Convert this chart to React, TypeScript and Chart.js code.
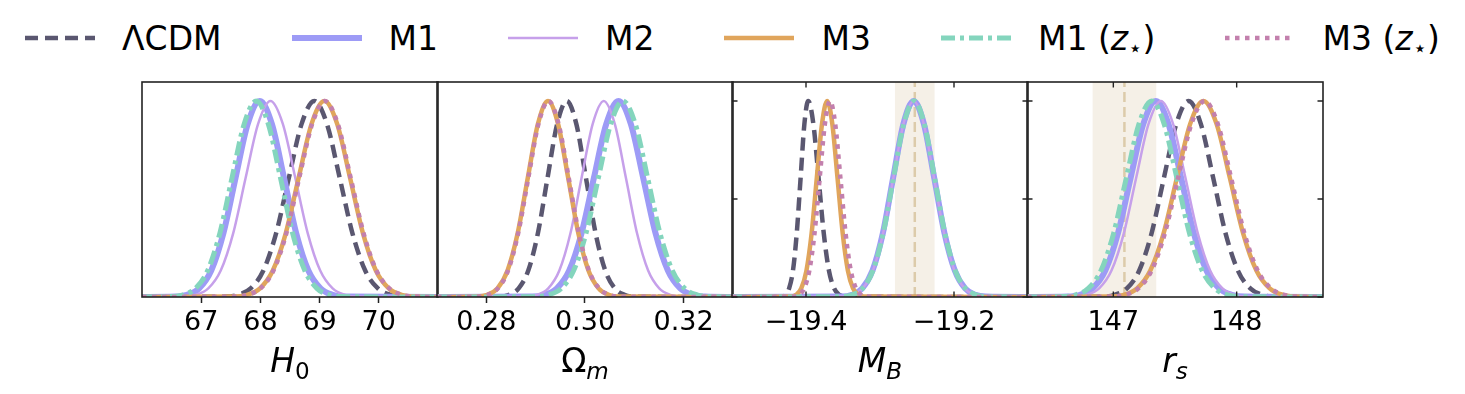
import React, { useEffect, useRef } from "react";
import { Chart, registerables } from "chart.js";

Chart.register(...registerables);

// ---------- series (legend order) ----------
const seriesNames = ["ΛCDM", "M1", "M2", "M3", "M1 (z⋆)", "M3 (z⋆)"];
const seriesColors = ["#5a5770", "#9d9bf6", "#c6a0ea", "#e0a55c", "#84d5bd", "#c380ad"];
const seriesWidths = [4.5, 6, 2.5, 4.5, 5, 4.5];
const seriesDashes: number[][] = [[13, 7], [], [], [], [14, 5, 4, 5], [4.5, 5.5]];

// Normalised posterior heights at which each curve's x positions were read
const densityLevels = [0, 0.002, 0.011, 0.044, 0.135, 0.325, 0.607, 0.882, 1, 0.882, 0.607, 0.325, 0.135, 0.044, 0.011, 0.002, 0];

// ---------- H0 panel ----------
const h0Range = [66, 71];
const h0Ticks = [67, 68, 69, 70];
const h0TickLabels = ["67", "68", "69", "70"];
const h0_LCDM_x = [66, 67.405, 67.62, 67.835, 68.05, 68.265, 68.48, 68.695, 68.91, 69.125, 69.34, 69.555, 69.77, 69.985, 70.2, 70.415, 71];
const h0_M1_x = [66, 66.555, 66.76, 66.965, 67.17, 67.375, 67.58, 67.785, 67.99, 68.195, 68.4, 68.605, 68.81, 69.015, 69.22, 69.425, 71];
const h0_M2_x = [66, 66.7, 66.91, 67.12, 67.33, 67.54, 67.75, 67.96, 68.17, 68.38, 68.59, 68.8, 69.01, 69.22, 69.43, 69.64, 71];
const h0_M3_x = [66, 67.558, 67.775, 67.993, 68.21, 68.428, 68.645, 68.863, 69.08, 69.298, 69.515, 69.733, 69.95, 70.168, 70.385, 70.603, 71];
const h0_M1z_x = [66, 66.495, 66.7, 66.905, 67.11, 67.315, 67.52, 67.725, 67.93, 68.135, 68.34, 68.545, 68.75, 68.955, 69.16, 69.365, 71];
const h0_M3z_x = [66, 67.568, 67.785, 68.003, 68.22, 68.438, 68.655, 68.873, 69.09, 69.308, 69.525, 69.743, 69.96, 70.178, 70.395, 70.613, 71];

// ---------- Omega_m panel ----------
const omRange = [0.27, 0.33];
const omTicks = [0.28, 0.3, 0.32];
const omTickLabels = ["0.28", "0.30", "0.32"];
const om_LCDM_x = [0.27, 0.28265, 0.2846, 0.28655, 0.2885, 0.29045, 0.2924, 0.29435, 0.2963, 0.29825, 0.3002, 0.30215, 0.3041, 0.30605, 0.308, 0.30995, 0.33];
const om_M1_x = [0.27, 0.2893, 0.2918, 0.2943, 0.2968, 0.2993, 0.3018, 0.3043, 0.3068, 0.3093, 0.3118, 0.3143, 0.3168, 0.3193, 0.3218, 0.3243, 0.33];
const om_M2_x = [0.27, 0.28805, 0.2903, 0.29255, 0.2948, 0.29705, 0.2993, 0.30155, 0.3038, 0.30605, 0.3083, 0.31055, 0.3128, 0.31505, 0.3173, 0.31955, 0.33];
const om_M3_x = [0.27, 0.27815, 0.2802, 0.28225, 0.2843, 0.28635, 0.2884, 0.29045, 0.2925, 0.29455, 0.2966, 0.29865, 0.3007, 0.30275, 0.3048, 0.30685, 0.33];
const om_M1z_x = [0.27, 0.2902, 0.2927, 0.2952, 0.2977, 0.3002, 0.3027, 0.3052, 0.3077, 0.3102, 0.3127, 0.3152, 0.3177, 0.3202, 0.3227, 0.3252, 0.33];
const om_M3z_x = [0.27, 0.27825, 0.2803, 0.28235, 0.2844, 0.28645, 0.2885, 0.29055, 0.2926, 0.29465, 0.2967, 0.29875, 0.3008, 0.30285, 0.3049, 0.30695, 0.33];

// ---------- M_B panel ----------
const mbRange = [-19.5, -19.1];
const mbTicks = [-19.4, -19.2];
const mbTickLabels = ["−19.4", "−19.2"];
const mbPrior = [-19.253, 0.027]; // SH0ES mean, sigma
const mb_LCDM_x = [-19.5, -19.433, -19.4279, -19.4228, -19.4176, -19.4125, -19.4073, -19.4022, -19.397, -19.39, -19.383, -19.376, -19.369, -19.362, -19.355, -19.348, -19.1];
const mb_M1_x = [-19.5, -19.3518, -19.3379, -19.324, -19.3101, -19.2962, -19.2823, -19.2684, -19.2545, -19.2406, -19.2267, -19.2128, -19.1989, -19.185, -19.1711, -19.1572, -19.1];
const mb_M2_x = [-19.5, -19.3508, -19.337, -19.3233, -19.3095, -19.2958, -19.282, -19.2683, -19.2545, -19.2408, -19.227, -19.2133, -19.1995, -19.1858, -19.172, -19.1583, -19.1];
const mb_M3_x = [-19.5, -19.4204, -19.4134, -19.4064, -19.3994, -19.3924, -19.3854, -19.3784, -19.3714, -19.3644, -19.3574, -19.3504, -19.3434, -19.3364, -19.3294, -19.3224, -19.1];
const mb_M1z_x = [-19.5, -19.3513, -19.3374, -19.3235, -19.3096, -19.2957, -19.2818, -19.2679, -19.254, -19.2401, -19.2262, -19.2123, -19.1984, -19.1845, -19.1706, -19.1567, -19.1];
const mb_M3z_x = [-19.5, -19.4165, -19.4095, -19.4025, -19.3955, -19.3885, -19.3815, -19.3745, -19.3675, -19.3605, -19.3535, -19.3465, -19.3395, -19.3325, -19.3255, -19.3185, -19.1];

// ---------- r_s panel ----------
const rsRange = [146.3, 148.7];
const rsTicks = [147, 148];
const rsTickLabels = ["147", "148"];
const rsPrior = [147.09, 0.26]; // Planck mean, sigma
const rs_LCDM_x = [146.3, 146.91, 147.01, 147.11, 147.21, 147.31, 147.41, 147.51, 147.61, 147.71, 147.81, 147.91, 148.01, 148.11, 148.21, 148.31, 148.7];
const rs_M1_x = [146.3, 146.6275, 146.73, 146.8325, 146.935, 147.0375, 147.14, 147.2425, 147.345, 147.4475, 147.55, 147.6525, 147.755, 147.8575, 147.96, 148.0625, 148.7];
const rs_M2_x = [146.3, 146.685, 146.785, 146.885, 146.985, 147.085, 147.185, 147.285, 147.385, 147.485, 147.585, 147.685, 147.785, 147.885, 147.985, 148.085, 148.7];
const rs_M3_x = [146.3, 146.9775, 147.085, 147.1925, 147.3, 147.4075, 147.515, 147.6225, 147.73, 147.8375, 147.945, 148.0525, 148.16, 148.2675, 148.375, 148.4825, 148.7];
const rs_M1z_x = [146.3, 146.5925, 146.695, 146.7975, 146.9, 147.0025, 147.105, 147.2075, 147.31, 147.4125, 147.515, 147.6175, 147.72, 147.8225, 147.925, 148.0275, 148.7];
const rs_M3z_x = [146.3, 146.9875, 147.095, 147.2025, 147.31, 147.4175, 147.525, 147.6325, 147.74, 147.8475, 147.955, 148.0625, 148.17, 148.2775, 148.385, 148.4925, 148.7];

const yTicks = [0, 0.5, 1];
const Y_MAX = 1.097;

// ---------- layout ----------
const PANEL_LEFTS = [142, 437, 732, 1027];
const PANEL_W = 296;
const PANEL_TOP = 82;
const PANEL_H = 215;
const PADX = 40;
const PADT = 10;
const AXIS_H = 45;
const FONT = "'DejaVu Sans', sans-serif";

const panels = [
  { range: h0Range, ticks: h0Ticks, labels: h0TickLabels, curves: [h0_LCDM_x, h0_M1_x, h0_M2_x, h0_M3_x, h0_M1z_x, h0_M3z_x], inner: false, prior: null as number[] | null },
  { range: omRange, ticks: omTicks, labels: omTickLabels, curves: [om_LCDM_x, om_M1_x, om_M2_x, om_M3_x, om_M1z_x, om_M3z_x], inner: false, prior: null as number[] | null },
  { range: mbRange, ticks: mbTicks, labels: mbTickLabels, curves: [mb_LCDM_x, mb_M1_x, mb_M2_x, mb_M3_x, mb_M1z_x, mb_M3z_x], inner: true, prior: mbPrior },
  { range: rsRange, ticks: rsTicks, labels: rsTickLabels, curves: [rs_LCDM_x, rs_M1_x, rs_M2_x, rs_M3_x, rs_M1z_x, rs_M3z_x], inner: true, prior: rsPrior },
];

const framePlugin = {
  id: "frame",
  afterDraw(chart: any, _args: any, opts: any) {
    const { ctx, chartArea: a, scales } = chart;
    ctx.save();
    ctx.strokeStyle = "#222";
    ctx.lineWidth = 1.6;
    ctx.strokeRect(a.left, a.top, a.right - a.left, a.bottom - a.top);
    if (opts && opts.inner) {
      const L = 5.5;
      ctx.lineWidth = 1.4;
      ctx.beginPath();
      for (const t of scales.x.ticks) {
        const px = scales.x.getPixelForValue(t.value);
        ctx.moveTo(px, a.top);
        ctx.lineTo(px, a.top + L);
        ctx.moveTo(px, a.bottom);
        ctx.lineTo(px, a.bottom - L);
      }
      for (const v of yTicks) {
        const py = scales.y.getPixelForValue(v);
        ctx.moveTo(a.left, py);
        ctx.lineTo(a.left + L, py);
        ctx.moveTo(a.right, py);
        ctx.lineTo(a.right - L, py);
      }
      ctx.stroke();
    }
    ctx.restore();
  },
};

function Panel({ idx }: { idx: number }) {
  const ref = useRef<HTMLCanvasElement>(null);
  useEffect(() => {
    const p = panels[idx];
    const datasets: any[] = p.curves.map((xs, s) => ({
      label: seriesNames[s],
      data: xs.map((x, i) => ({ x, y: densityLevels[i] })),
      borderColor: seriesColors[s],
      borderWidth: seriesWidths[s],
      borderDash: seriesDashes[s],
      pointRadius: 0,
      fill: false,
      cubicInterpolationMode: "monotone",
      clip: 0,
      order: 10 - s,
    }));
    if (p.prior) {
      const [c, sd] = p.prior;
      datasets.push({
        label: "prior band",
        data: [
          { x: c - sd, y: Y_MAX },
          { x: c + sd, y: Y_MAX },
        ],
        backgroundColor: "rgba(236,228,212,0.55)",
        borderWidth: 0,
        pointRadius: 0,
        fill: "origin",
        order: 100,
      });
      datasets.push({
        label: "prior mean",
        data: [
          { x: c, y: 0 },
          { x: c, y: Y_MAX },
        ],
        borderColor: "#dccbaa",
        borderWidth: 2.5,
        borderDash: [10, 5],
        pointRadius: 0,
        fill: false,
        order: 99,
      });
    }
    const chart = new Chart(ref.current as HTMLCanvasElement, {
      type: "line",
      data: { datasets },
      options: {
        responsive: false,
        maintainAspectRatio: false,
        animation: false,
        events: [],
        layout: { padding: { left: PADX, right: PADX, top: PADT, bottom: 0 }, autoPadding: false },
        plugins: {
          legend: { display: false },
          tooltip: { enabled: false },
          frame: { inner: p.inner },
        } as any,
        scales: {
          x: {
            type: "linear",
            min: p.range[0],
            max: p.range[1],
            afterBuildTicks: (s: any) => {
              s.ticks = p.ticks.map((v) => ({ value: v }));
            },
            afterFit: (s: any) => {
              s.height = AXIS_H;
            },
            ticks: {
              autoSkip: false,
              maxRotation: 0,
              minRotation: 0,
              padding: 4,
              color: "#000",
              font: { family: FONT, size: 27 },
              callback: (_v: any, i: number) => p.labels[i],
            },
            grid: {
              display: true,
              drawOnChartArea: false,
              drawTicks: true,
              tickLength: 6,
              tickWidth: 1.5,
              tickColor: p.inner ? "rgba(0,0,0,0)" : "#222",
              color: "rgba(0,0,0,0)",
            },
            border: { display: false },
          },
          y: { type: "linear", min: 0, max: Y_MAX, display: false },
        },
      } as any,
      plugins: [framePlugin],
    });
    return () => chart.destroy();
  }, [idx]);
  return (
    <canvas
      ref={ref}
      width={PANEL_W + 2 * PADX}
      height={PANEL_H + PADT + AXIS_H}
      style={{ position: "absolute", left: PANEL_LEFTS[idx] - PADX, top: PANEL_TOP - PADT, width: PANEL_W + 2 * PADX, height: PANEL_H + PADT + AXIS_H }}
    />
  );
}

const subStyle: React.CSSProperties = { fontSize: "0.7em", position: "relative", top: "0.3em" };

function legendLabel(i: number) {
  if (i === 4) return (<span>M1 (<i>z</i><span style={subStyle}>⋆</span>)</span>);
  if (i === 5) return (<span>M3 (<i>z</i><span style={subStyle}>⋆</span>)</span>);
  return <span>{seriesNames[i]}</span>;
}

const axisTitles = [
  <span><i>H</i><span style={subStyle}>0</span></span>,
  <span>Ω<i style={subStyle}>m</i></span>,
  <span><i>M</i><i style={subStyle}>B</i></span>,
  <span><i>r</i><i style={subStyle}>s</i></span>,
];

export default function App() {
  return (
    <div style={{ position: "absolute", left: 0, top: 0, width: 1465, height: 394, background: "#fff", overflow: "hidden", fontFamily: FONT }}>
      <div style={{ position: "absolute", left: 0, top: 0, width: 1465, height: 76, display: "flex", justifyContent: "center", alignItems: "center", gap: 70 }}>
        {seriesNames.map((_n, i) => (
          <div key={i} style={{ display: "flex", alignItems: "center" }}>
            <svg width={70} height={14} style={{ marginRight: 27 }}>
              <line x1={0} y1={7} x2={70} y2={7} stroke={seriesColors[i]} strokeWidth={seriesWidths[i]} strokeDasharray={seriesDashes[i].length ? seriesDashes[i].join(" ") : undefined} />
            </svg>
            <span style={{ fontSize: 33, color: "#000", whiteSpace: "nowrap" }}>{legendLabel(i)}</span>
          </div>
        ))}
      </div>
      {panels.map((_p, i) => (
        <Panel key={i} idx={i} />
      ))}
      {axisTitles.map((t, i) => (
        <div key={i} style={{ position: "absolute", left: PANEL_LEFTS[i] + PANEL_W / 2 - 100, width: 200, top: 341, textAlign: "center", fontSize: 33, color: "#000", whiteSpace: "nowrap" }}>
          {t}
        </div>
      ))}
    </div>
  );
}
